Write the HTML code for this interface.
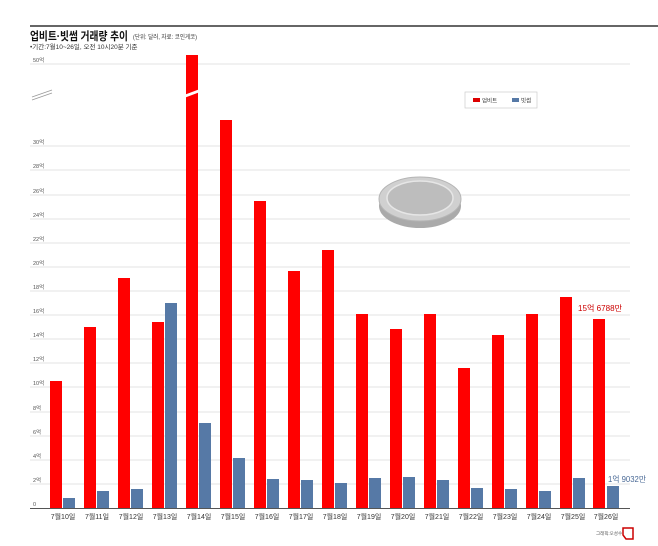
<!DOCTYPE html>
<html><head><meta charset="utf-8"><style>
body{margin:0;background:#fff;width:658px;height:541px;overflow:hidden}
text{font-family:"Liberation Sans","Noto Sans CJK KR",sans-serif}
</style></head><body>
<svg width="658" height="541" xmlns="http://www.w3.org/2000/svg">
<line x1="30" y1="26" x2="658" y2="26" stroke="#333" stroke-width="1.5"/>
<text x="30" y="40" font-size="11.5" font-weight="bold" fill="#111" textLength="98" lengthAdjust="spacingAndGlyphs">업비트·빗썸 거래량 추이</text>
<text x="133" y="39" font-size="6" fill="#333" textLength="64" lengthAdjust="spacingAndGlyphs">(단위: 달러, 자료: 코인게코)</text>
<text x="30" y="49" font-size="6.5" fill="#333">•기간:7월10~26일, 오전 10시20분 기준</text>
<g stroke="#e3e3e3" stroke-width="1">
<line x1="30" y1="64" x2="630" y2="64"/>
<line x1="30" y1="146" x2="630" y2="146"/><line x1="30" y1="170" x2="630" y2="170"/>
<line x1="30" y1="195" x2="630" y2="195"/><line x1="30" y1="219" x2="630" y2="219"/>
<line x1="30" y1="243" x2="630" y2="243"/><line x1="30" y1="267" x2="630" y2="267"/>
<line x1="30" y1="291" x2="630" y2="291"/><line x1="30" y1="315" x2="630" y2="315"/>
<line x1="30" y1="339" x2="630" y2="339"/><line x1="30" y1="363" x2="630" y2="363"/>
<line x1="30" y1="387" x2="630" y2="387"/><line x1="30" y1="412" x2="630" y2="412"/>
<line x1="30" y1="436" x2="630" y2="436"/><line x1="30" y1="460" x2="630" y2="460"/>
<line x1="30" y1="484" x2="630" y2="484"/>
</g>
<g font-size="5.5" fill="#555">
<text x="33" y="62">50억</text>
<text x="33" y="144">30억</text><text x="33" y="168">28억</text><text x="33" y="193">26억</text>
<text x="33" y="217">24억</text><text x="33" y="241">22억</text><text x="33" y="265">20억</text>
<text x="33" y="289">18억</text><text x="33" y="313">16억</text><text x="33" y="337">14억</text>
<text x="33" y="361">12억</text><text x="33" y="385">10억</text><text x="33" y="410">8억</text>
<text x="33" y="434">6억</text><text x="33" y="458">4억</text><text x="33" y="482">2억</text>
<text x="33" y="506">0</text>
</g>
<line x1="32" y1="97" x2="52" y2="90" stroke="#999" stroke-width="0.8"/>
<line x1="32" y1="100" x2="52" y2="93" stroke="#999" stroke-width="0.8"/>
<g fill="#f00">
<rect x="50" y="381" width="12" height="127"/>
<rect x="84" y="327" width="12" height="181"/>
<rect x="118" y="278" width="12" height="230"/>
<rect x="152" y="322" width="12" height="186"/>
<rect x="186" y="55" width="12" height="453"/>
<rect x="220" y="120" width="12" height="388"/>
<rect x="254" y="201" width="12" height="307"/>
<rect x="288" y="271" width="12" height="237"/>
<rect x="322" y="250" width="12" height="258"/>
<rect x="356" y="314" width="12" height="194"/>
<rect x="390" y="329" width="12" height="179"/>
<rect x="424" y="314" width="12" height="194"/>
<rect x="458" y="368" width="12" height="140"/>
<rect x="492" y="335" width="12" height="173"/>
<rect x="526" y="314" width="12" height="194"/>
<rect x="560" y="297" width="12" height="211"/>
<rect x="593" y="319" width="12" height="189"/>
</g>
<polygon points="184,95 200,89 200,92 184,98" fill="#fff"/>
<g fill="#5679a6">
<rect x="63" y="498" width="12" height="10"/>
<rect x="97" y="491" width="12" height="17"/>
<rect x="131" y="489" width="12" height="19"/>
<rect x="165" y="303" width="12" height="205"/>
<rect x="199" y="423" width="12" height="85"/>
<rect x="233" y="458" width="12" height="50"/>
<rect x="267" y="479" width="12" height="29"/>
<rect x="301" y="480" width="12" height="28"/>
<rect x="335" y="483" width="12" height="25"/>
<rect x="369" y="478" width="12" height="30"/>
<rect x="403" y="477" width="12" height="31"/>
<rect x="437" y="480" width="12" height="28"/>
<rect x="471" y="488" width="12" height="20"/>
<rect x="505" y="489" width="12" height="19"/>
<rect x="539" y="491" width="12" height="17"/>
<rect x="573" y="478" width="12" height="30"/>
<rect x="607" y="486" width="12" height="22"/>
</g>
<line x1="30" y1="508.5" x2="630" y2="508.5" stroke="#555" stroke-width="1"/>
<g font-size="7" fill="#333" text-anchor="middle">
<text x="63" y="519">7월10일</text><text x="97" y="519">7월11일</text><text x="131" y="519">7월12일</text>
<text x="165" y="519">7월13일</text><text x="199" y="519">7월14일</text><text x="233" y="519">7월15일</text>
<text x="267" y="519">7월16일</text><text x="301" y="519">7월17일</text><text x="335" y="519">7월18일</text>
<text x="369" y="519">7월19일</text><text x="403" y="519">7월20일</text><text x="437" y="519">7월21일</text>
<text x="471" y="519">7월22일</text><text x="505" y="519">7월23일</text><text x="539" y="519">7월24일</text>
<text x="573" y="519">7월25일</text><text x="606" y="519">7월26일</text>
</g>
<text x="578" y="311" font-size="8" fill="#c00" textLength="44" lengthAdjust="spacingAndGlyphs">15억 6788만</text>
<text x="608" y="482" font-size="8" fill="#4a6a96" textLength="38" lengthAdjust="spacingAndGlyphs">1억 9032만</text>
<rect x="465" y="92" width="72" height="16" fill="#fff" stroke="#ccc" stroke-width="0.7"/>
<rect x="473" y="98" width="7" height="4" fill="#d00"/>
<text x="482" y="102.5" font-size="5.5" fill="#333">업비트</text>
<rect x="512" y="98" width="7" height="4" fill="#5679a6"/>
<text x="521" y="102.5" font-size="5.5" fill="#333">빗썸</text>
<ellipse cx="420" cy="206" rx="41" ry="22" fill="#aaa"/>
<ellipse cx="420" cy="199" rx="41" ry="22" fill="#d0d0d0" stroke="#b5b5b5"/>
<ellipse cx="420" cy="198" rx="33" ry="17" fill="#bdbdbd" stroke="#e6e6e6" stroke-width="1.5"/>
<text x="596" y="535" font-size="4.5" fill="#555">그래픽:오성수</text>
<path d="M623 528 L633 528 L633 539 L626 539 L623 535 Z" fill="none" stroke="#c00" stroke-width="1.5"/>
</svg>
</body></html>
